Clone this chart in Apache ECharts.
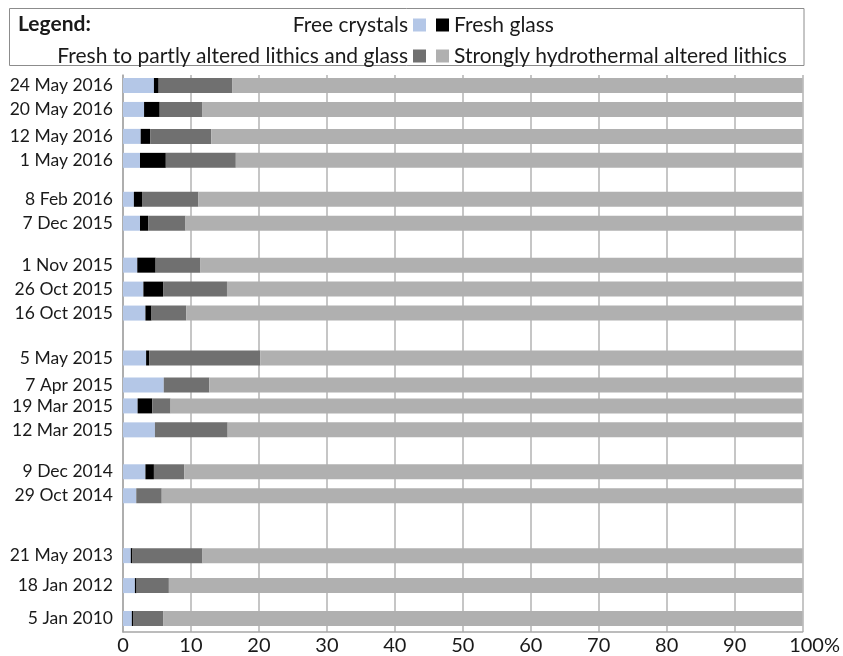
<!DOCTYPE html>
<html>
<head>
<meta charset="utf-8">
<script src="https://cdn.jsdelivr.net/npm/echarts@6/dist/echarts.min.js"></script>
<style>
  html, body { margin: 0; padding: 0; background: #fff; }
  #chart { width: 843px; height: 656px; }
</style>
</head>
<body>
<div id="chart"></div>
<script>
// Sampling dates, newest first
const dates = [
  '24 May 2016', '20 May 2016', '12 May 2016', '1 May 2016',
  '8 Feb 2016', '7 Dec 2015',
  '1 Nov 2015', '26 Oct 2015', '16 Oct 2015',
  '5 May 2015', '7 Apr 2015', '19 Mar 2015', '12 Mar 2015',
  '9 Dec 2014', '29 Oct 2014',
  '21 May 2013', '18 Jan 2012', '5 Jan 2010'
];

// Component percentages per sample
const freeCrystals = [4.55, 3.1, 2.6, 2.5, 1.6, 2.5, 2.1, 3.0, 3.3, 3.4, 6.0, 2.15, 4.7, 3.3, 1.95, 1.15, 1.75, 1.3];
const freshGlass = [0.7, 2.3, 1.4, 3.8, 1.2, 1.2, 2.7, 2.9, 0.9, 0.45, 0, 2.15, 0, 1.25, 0, 0.25, 0.25, 0.25];
const partlyAltered = [10.8, 6.3, 9.0, 10.3, 8.3, 5.5, 6.6, 9.4, 5.1, 16.35, 6.7, 2.7, 10.7, 4.45, 3.75, 10.3, 4.75, 4.35];
const stronglyAltered = [83.95, 88.3, 87.0, 83.4, 88.9, 90.8, 88.6, 84.7, 90.7, 79.8, 87.3, 93.0, 84.6, 91.0, 94.3, 88.3, 93.25, 94.1];

const seriesNames = [
  'Free crystals',
  'Fresh glass',
  'Fresh to partly altered lithics and glass',
  'Strongly hydrothermal altered lithics'
];

// Layout: the vertical axis is divided into fine rows so that eruption
// groups can be separated by uneven blank space.
const slotCount = 186;
const rowSlot = [3, 11, 20, 28, 41, 49, 63, 71, 79, 94, 103, 110, 118, 132, 140, 160, 170, 181];

const axisCategories = new Array(slotCount).fill('');
rowSlot.forEach((s, i) => { axisCategories[s] = dates[i]; });

function spread(values) {
  const out = new Array(slotCount).fill('-');
  rowSlot.forEach((s, i) => { out[s] = values[i]; });
  return out;
}

const colors = ['#b4c7e7', '#000000', '#707070', '#b0b0b0'];
const valueSets = [freeCrystals, freshGlass, partlyAltered, stronglyAltered];

const FONT = 'Lato, "Open Sans", sans-serif';
const TEXT = '#1a1a1a';

const chart = echarts.init(document.getElementById('chart'), null, { renderer: 'canvas' });

chart.setOption({
  animation: false,
  backgroundColor: '#ffffff',
  color: colors,
  grid: { left: 123, right: 39.5, top: 75, bottom: 23.5, containLabel: false },
  graphic: [
    {
      type: 'rect',
      shape: { x: 9.5, y: 8.5, width: 794.5, height: 57 },
      style: { fill: 'none', stroke: '#8c8c8c', lineWidth: 1 },
      silent: true
    },
    {
      type: 'text',
      left: 18,
      top: 14,
      style: { text: 'Legend:', font: 'bold 21px ' + FONT, fill: TEXT },
      silent: true
    }
  ],
  legend: [
    {
      data: [seriesNames[0], seriesNames[2]],
      orient: 'vertical',
      align: 'right',
      right: 417,
      top: 14.5,
      itemWidth: 13,
      itemHeight: 13,
      itemGap: 10,
      icon: 'rect',
      selectedMode: false,
      padding: 0,
      textStyle: { fontFamily: FONT, fontSize: 21, lineHeight: 21, color: TEXT }
    },
    {
      data: [seriesNames[1], seriesNames[3]],
      orient: 'vertical',
      align: 'left',
      left: 436,
      top: 14.5,
      itemWidth: 13,
      itemHeight: 13,
      itemGap: 10,
      icon: 'rect',
      selectedMode: false,
      padding: 0,
      textStyle: { fontFamily: FONT, fontSize: 21, lineHeight: 21, color: TEXT }
    }
  ],
  xAxis: {
    type: 'value',
    min: 0,
    max: 100,
    interval: 10,
    axisLine: { show: true, lineStyle: { color: '#a6a6a6', width: 1.5 } },
    axisTick: { show: false },
    splitLine: { show: true, lineStyle: { color: '#b3b3b3', width: 1.5 } },
    axisLabel: {
      margin: 4,
      fontFamily: FONT,
      fontSize: 20,
      color: TEXT,
      formatter: v => (v === 100 ? '{last|100%}' : String(v)),
      rich: {
        last: { fontFamily: FONT, fontSize: 20, color: TEXT, padding: [0, 0, 0, 24] }
      }
    }
  },
  yAxis: {
    type: 'category',
    inverse: true,
    data: axisCategories,
    axisLine: { show: true, lineStyle: { color: '#a6a6a6', width: 1.5 } },
    axisTick: { show: false },
    splitLine: { show: false },
    axisLabel: {
      interval: 0,
      margin: 10,
      fontFamily: FONT,
      fontSize: 17.5,
      color: TEXT
    }
  },
  series: valueSets.map((vals, k) => ({
    name: seriesNames[k],
    type: 'bar',
    stack: 'total',
    barWidth: 15,
    itemStyle: { color: colors[k] },
    emphasis: { disabled: true },
    data: spread(vals)
  }))
});
</script>
</body>
</html>
